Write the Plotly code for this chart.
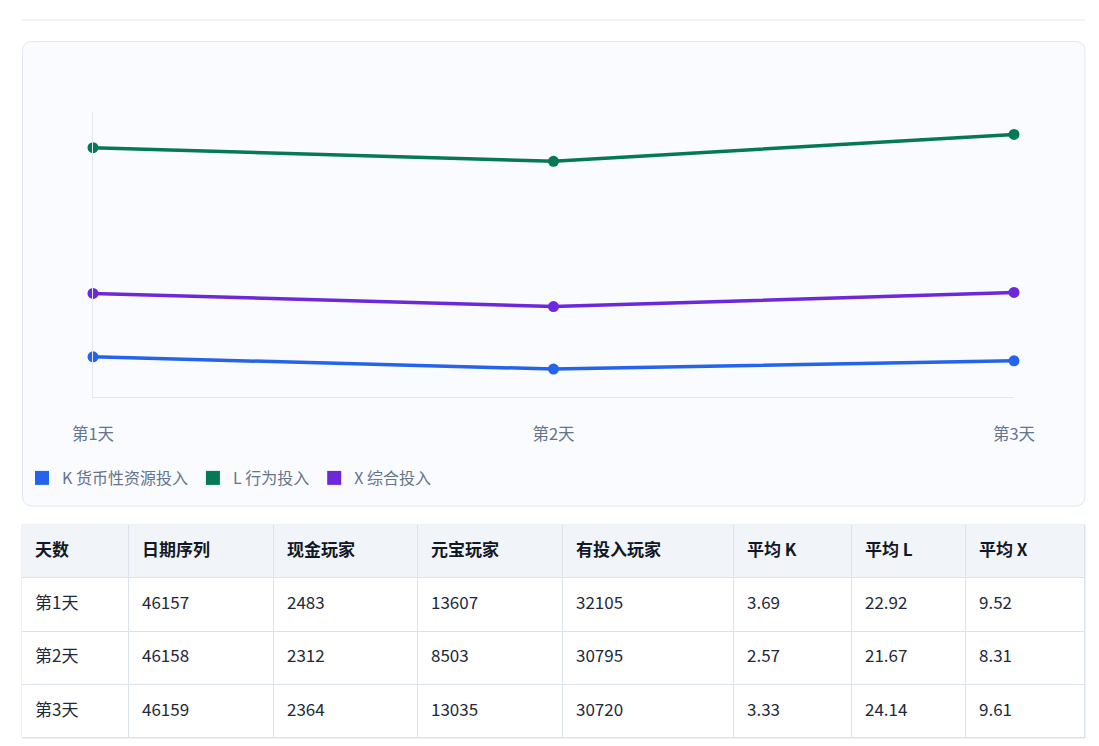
import plotly.graph_objects as go

# data
days = ["第1天", "第2天", "第3天"]
date_seq = [46157, 46158, 46159]
cash_players = [2483, 2312, 2364]
yuanbao_players = [13607, 8503, 13035]
invest_players = [32105, 30795, 30720]
avg_k = [3.69, 2.57, 3.33]
avg_l = [22.92, 21.67, 24.14]
avg_x = [9.52, 8.31, 9.61]

series_names = ["K 货币性资源投入", "L 行为投入", "X 综合投入"]
series_colors = ["#2563eb", "#047857", "#6d28d9"]
table_header = ["天数", "日期序列", "现金玩家", "元宝玩家", "有投入玩家", "平均 K", "平均 L", "平均 X"]

W, H = 1099, 746
OFF = 8  # page body margin
FONT = "Noto Sans CJK SC, Noto Sans, sans-serif"


def px(x):
    return (x - OFF) / W


def py(y):
    return 1 - (y - OFF) / H


def rounded_rect(x0, y0, x1, y1, r):
    rx, ry = r / W, r / H
    a, b, c, d = px(x0), py(y1), px(x1), py(y0)  # left, bottom, right, top
    return (f"M {a + rx},{d} L {c - rx},{d} Q {c},{d} {c},{d - ry} "
            f"L {c},{b + ry} Q {c},{b} {c - rx},{b} L {a + rx},{b} "
            f"Q {a},{b} {a},{b + ry} L {a},{d - ry} Q {a},{d} {a + rx},{d} Z")


fig = go.Figure()

# line chart
for name, vals, color in zip(series_names, [avg_k, avg_l, avg_x], series_colors):
    fig.add_trace(go.Scatter(
        x=days, y=vals, mode="lines+markers", name=name,
        line=dict(color=color, width=3.5), marker=dict(color=color, size=11),
        cliponaxis=False, showlegend=False))
    fig.add_trace(go.Scatter(
        x=[None], y=[None], mode="markers", name=name,
        marker=dict(color=color, size=14, symbol="square")))

# table: heatmap bricks for the cells, text traces for the values
col_widths = [107, 145, 144, 145, 171, 118, 114, 119]
row_h = 53.25
col_edges = [0]
for w in col_widths:
    col_edges.append(col_edges[-1] + w)
n_rows = 1 + len(days)
row_edges = [i * row_h for i in range(n_rows + 1)]

body_cols = [days, date_seq, cash_players, yuanbao_players, invest_players,
             [f"{v:.2f}" for v in avg_k], [f"{v:.2f}" for v in avg_l],
             [f"{v:.2f}" for v in avg_x]]
rows_text = [[f"<b>{h}</b>" for h in table_header]]
for r in range(len(days)):
    rows_text.append([str(col[r]) for col in body_cols])

fig.add_trace(go.Heatmap(
    x=col_edges, y=row_edges,
    z=[[1] * len(col_widths)] + [[0] * len(col_widths) for _ in days],
    colorscale=[[0, "#ffffff"], [1, "#f1f5f9"]], showscale=False,
    xgap=1, ygap=1, hoverinfo="skip", xaxis="x2", yaxis="y2"))

for r, texts in enumerate(rows_text):
    fig.add_trace(go.Scatter(
        x=[e + 13 for e in col_edges[:-1]],
        y=[(row_edges[r] + row_edges[r + 1]) / 2] * len(texts),
        mode="text", text=texts, textposition="middle right",
        textfont=dict(family=FONT, size=17, color="#1e293b" if r else "#111827"),
        showlegend=False, hoverinfo="skip", cliponaxis=False,
        xaxis="x2", yaxis="y2"))

fig.update_layout(
    width=W, height=H,
    margin=dict(l=0, r=0, t=0, b=0, autoexpand=False),
    paper_bgcolor="white", plot_bgcolor="rgba(0,0,0,0)",
    font=dict(family=FONT),
    xaxis=dict(domain=[px(93), px(1014)], range=[0, 2], showgrid=False,
               showline=True, linecolor="#e2e8f0", linewidth=1,
               tickfont=dict(size=16.5, color="#64748b"), ticklabelstandoff=22,
               zeroline=False, fixedrange=True, automargin=False),
    yaxis=dict(domain=[py(397), py(112)], range=[0, 26.2], showgrid=False,
               showline=True, linecolor="#e2e8f0", linewidth=1,
               showticklabels=False, zeroline=False, fixedrange=True, automargin=False),
    xaxis2=dict(domain=[px(22), px(1085)], range=[0, col_edges[-1]], visible=False,
                fixedrange=True, automargin=False),
    yaxis2=dict(domain=[py(738), py(525)], range=[row_edges[-1], 0], visible=False,
                fixedrange=True, automargin=False),
    legend=dict(orientation="h", x=px(22), y=py(478), xanchor="left", yanchor="middle",
                font=dict(size=16, color="#64748b"), itemwidth=30,
                bgcolor="rgba(0,0,0,0)"),
    shapes=[
        dict(type="line", xref="paper", yref="paper", x0=px(22), x1=px(1085),
             y0=py(20), y1=py(20), line=dict(color="#e2e8f0", width=1)),
        dict(type="path", xref="paper", yref="paper", layer="below",
             path=rounded_rect(22.5, 41.5, 1085, 506, 10),
             fillcolor="#f9fbff", line=dict(color="#e2e8f0", width=1)),
        # grid colour showing through the gaps between table cells
        dict(type="rect", xref="paper", yref="paper", layer="below",
             x0=px(22), x1=px(1085), y0=py(738), y1=py(525),
             fillcolor="#dbe2ec", line=dict(color="#dbe2ec", width=1)),
    ],
)

fig.write_html("out.html")
